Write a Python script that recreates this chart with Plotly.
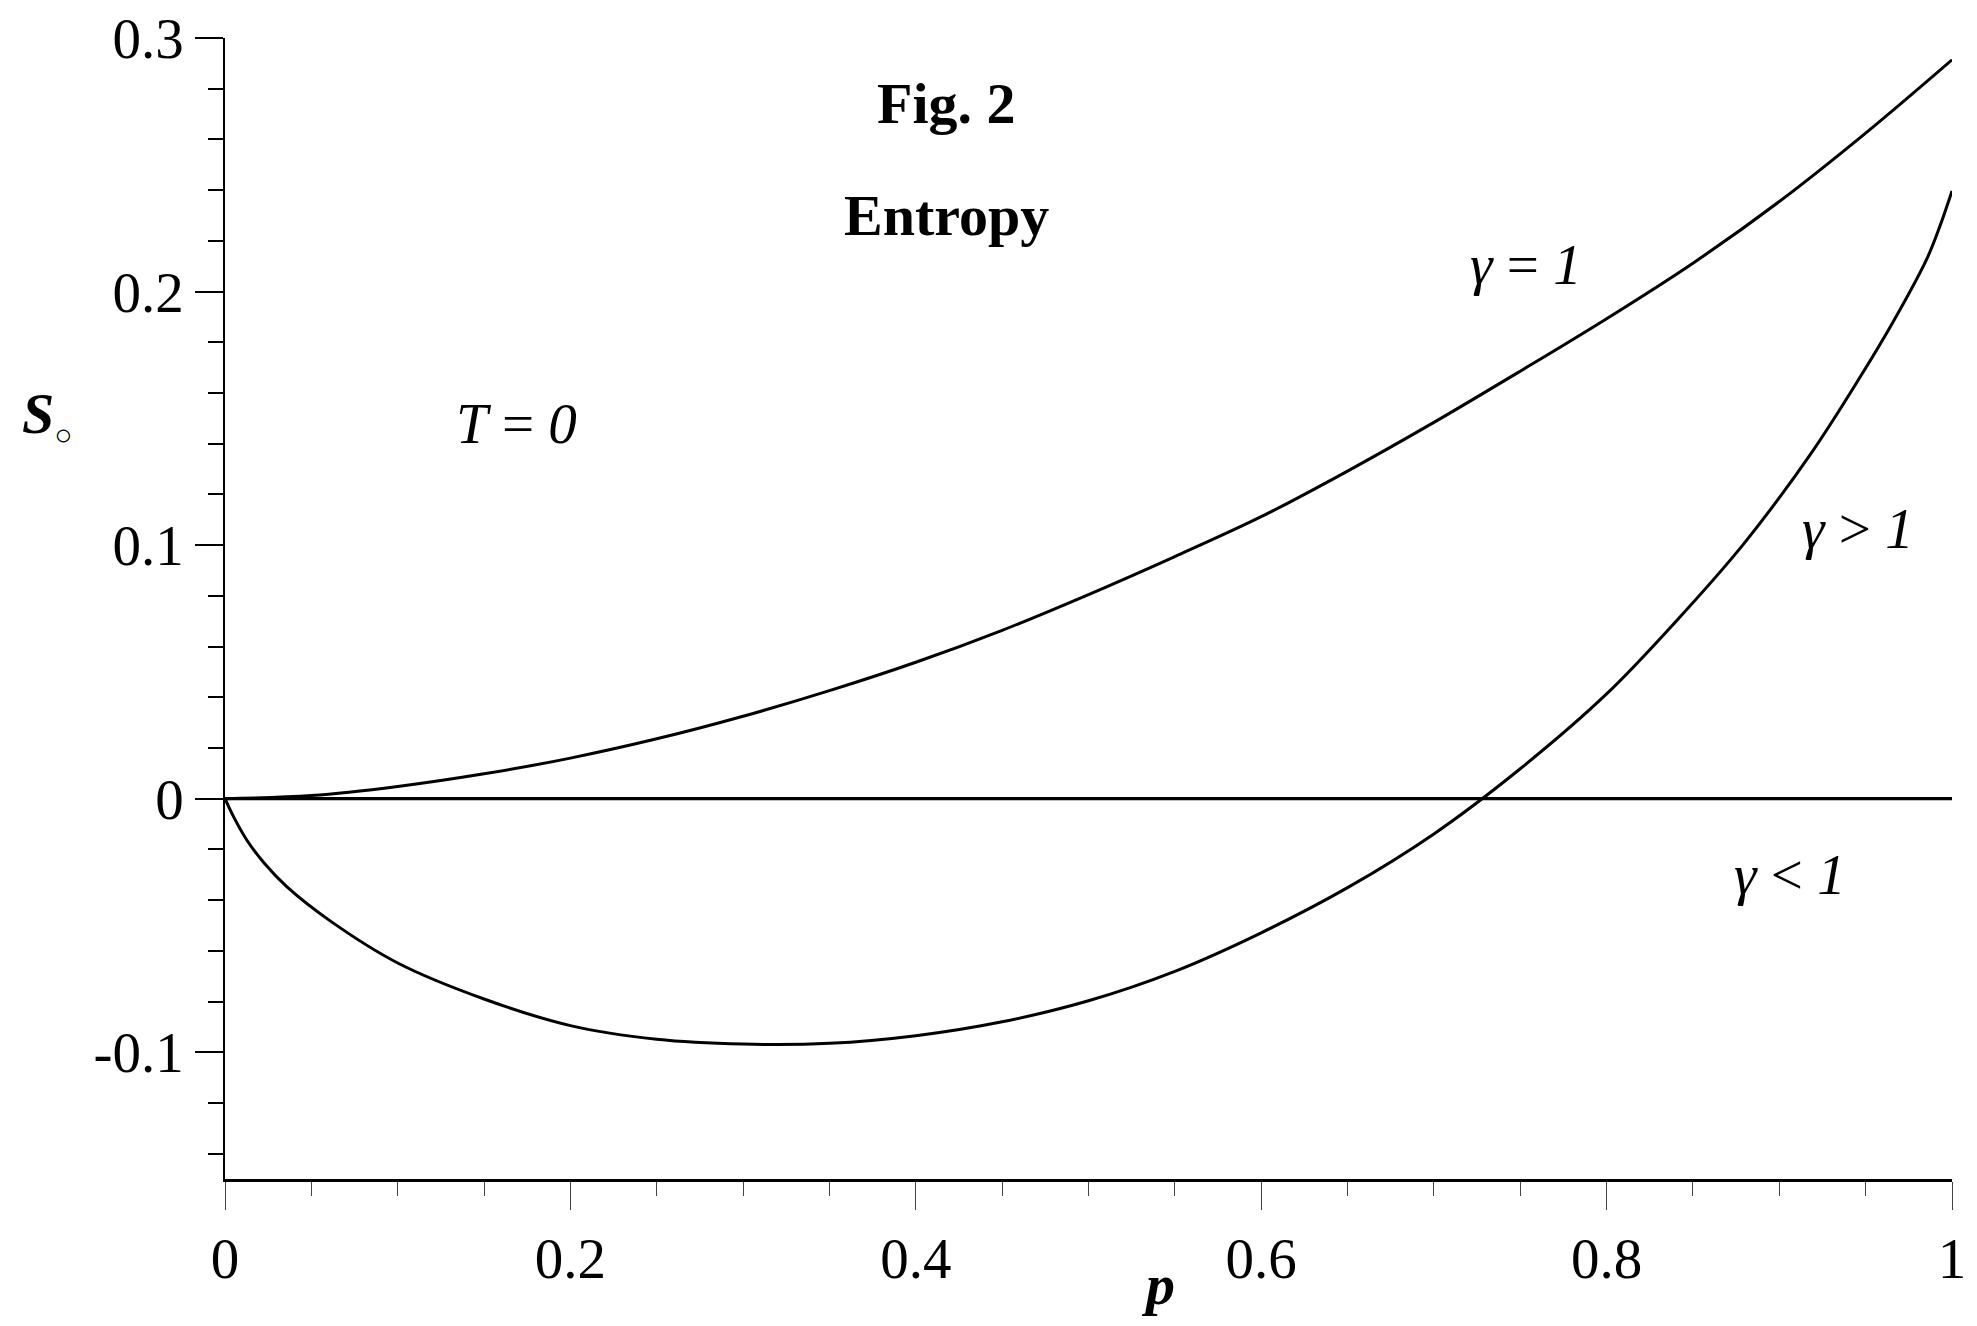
import plotly.graph_objects as go

# ---- data ----
p_gamma_eq1 = [0, 0.05, 0.1, 0.15, 0.2, 0.25, 0.3, 0.35, 0.4, 0.45, 0.5, 0.55,
               0.6, 0.65, 0.7, 0.75, 0.8, 0.85, 0.9, 0.95, 1.0]
s_gamma_eq1 = [0, 0.0012, 0.0048, 0.0098, 0.0160, 0.0236, 0.0325, 0.0426, 0.0538,
               0.0664, 0.0805, 0.0955, 0.1112, 0.1292, 0.1484, 0.1686, 0.1893, 0.2112,
               0.2355, 0.2625, 0.2914]

p_gamma_gt1 = [0, 0.005, 0.0126, 0.0229, 0.0359, 0.0617, 0.1, 0.15, 0.2, 0.25, 0.3,
               0.35, 0.4, 0.45, 0.5, 0.55, 0.6, 0.65, 0.7, 0.75, 0.8, 0.8408, 0.8794,
               0.9180, 0.9469, 0.9662, 0.9855, 0.993, 1.0]
s_gamma_gt1 = [0, -0.0072, -0.0163, -0.0256, -0.0348, -0.0486, -0.0648, -0.0790,
               -0.0895, -0.0949, -0.0968, -0.0965, -0.0935, -0.0880, -0.0797, -0.0681,
               -0.0529, -0.0351, -0.0139, 0.0118, 0.0413, 0.0704, 0.1005, 0.1358,
               0.1664, 0.1884, 0.2130, 0.2258, 0.2397]

p_gamma_lt1 = [0, 1.0]
s_gamma_lt1 = [0, 0]

x_tick_vals = [0, 0.2, 0.4, 0.6, 0.8, 1.0]
x_tick_text = ["0", "0.2", "0.4", "0.6", "0.8", "1"]
y_tick_vals = [-0.1, 0, 0.1, 0.2, 0.3]
y_tick_text = ["-0.1", "0", "0.1", "0.2", "0.3"]

FONT = "Liberation Serif, Times New Roman, serif"
Y0, Y1 = -0.15, 0.3

fig = go.Figure()
fig.add_trace(go.Scatter(x=p_gamma_eq1, y=s_gamma_eq1, mode="lines",
                         line=dict(color="black", width=3, shape="spline"),
                         showlegend=False))
fig.add_trace(go.Scatter(x=p_gamma_gt1, y=s_gamma_gt1, mode="lines",
                         line=dict(color="black", width=3, shape="spline"),
                         showlegend=False))
fig.add_trace(go.Scatter(x=p_gamma_lt1, y=s_gamma_lt1, mode="lines",
                         line=dict(color="black", width=3.3),
                         showlegend=False))

fig.update_layout(
    width=1961, height=1310,
    margin=dict(l=217, r=17, t=30, b=139),
    paper_bgcolor="white", plot_bgcolor="white",
    font=dict(family=FONT, size=57, color="black"),
    xaxis=dict(range=[0, 1], showgrid=False, zeroline=False, automargin=False,
               showline=True, linecolor="black", linewidth=3,
               ticks="outside", ticklen=28, tickwidth=1.4, tickcolor="#444",
               tickvals=x_tick_vals, ticktext=x_tick_text,
               ticklabeloverflow="allow",
               tickfont=dict(family=FONT, size=57),
               minor=dict(dtick=0.05, ticks="outside", ticklen=14,
                          tickwidth=1.4, tickcolor="#444", showgrid=False)),
    yaxis=dict(range=[Y0, Y1], showgrid=False, zeroline=False, automargin=False,
               showline=True, linecolor="black", linewidth=1.5,
               ticks="outside", ticklen=28, tickwidth=2.2, tickcolor="black",
               tickvals=y_tick_vals, ticktext=y_tick_text,
               ticklabeloverflow="allow",
               tickfont=dict(family=FONT, size=57),
               minor=dict(dtick=0.02, ticks="outside", ticklen=15,
                          tickwidth=2.2, tickcolor="black", showgrid=False)),
)


def ypaper(v):
    return (v - Y0) / (Y1 - Y0)


ann = [
    dict(x=0.4175, y=0.274, text="<b>Fig. 2</b>", size=58),
    dict(x=0.418, y=0.2299, text="<b>Entropy</b>", size=58),
    dict(x=0.169, y=0.1478, text="<i>T</i> = <i>0</i>", size=57),
    dict(x=0.7533, y=0.2107, text="<i>γ</i> = <i>1</i>", size=57),
    dict(x=0.9453, y=0.1067, text="<i>γ</i> > <i>1</i>", size=57),
    dict(x=0.906, y=-0.0298, text="<i>γ</i> < <i>1</i>", size=57),
    dict(x=-0.103, y=0.151,
         text="<b><i>S</i></b><sub><span style=\"font-size:30px\">○</span></sub>",
         size=58),
    dict(x=0.540, y=-0.1916, text="<b><i>p</i></b>", size=58),
]
for a in ann:
    fig.add_annotation(x=a["x"], y=ypaper(a["y"]), xref="paper", yref="paper",
                       text=a["text"], showarrow=False,
                       xanchor="center", yanchor="middle",
                       font=dict(family=FONT, size=a["size"], color="black"))

fig.write_html("out.html")
